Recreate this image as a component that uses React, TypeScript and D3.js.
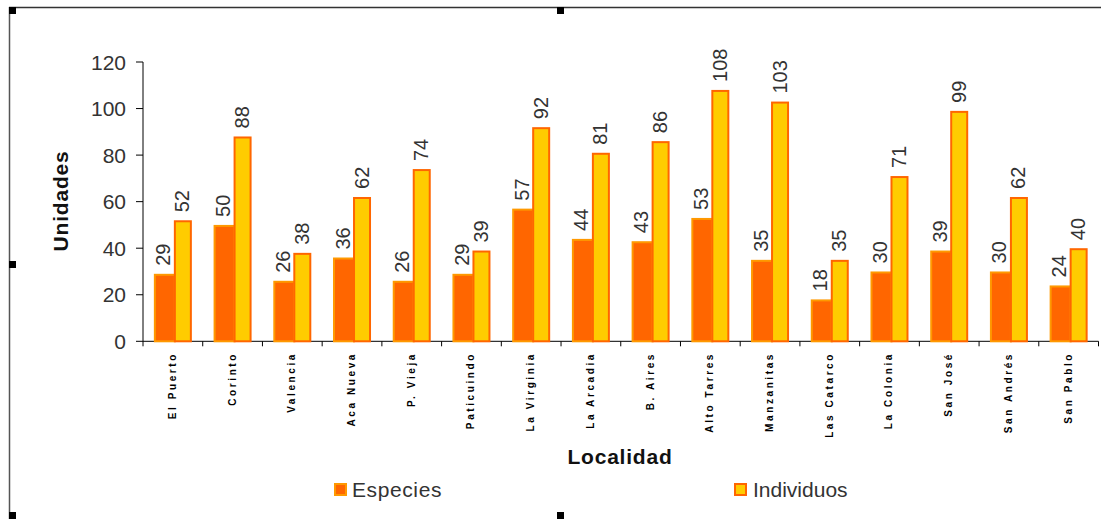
import React from "react";
import * as d3 from "d3";

const categories = [
  "El Puerto", "Corinto", "Valencia", "Aca Nueva", "P. Vieja", "Paticuindo",
  "La Virginia", "La Arcadia", "B. Aires", "Alto Tarres", "Manzanitas",
  "Las Catarco", "La Colonia", "San José", "San Andrés", "San Pablo",
];
const especies = [29, 50, 26, 36, 26, 29, 57, 44, 43, 53, 35, 18, 30, 39, 30, 24];
const individuos = [52, 88, 38, 62, 74, 39, 92, 81, 86, 108, 103, 35, 71, 99, 62, 40];
const seriesNames = ["Especies", "Individuos"];
const yTicks = [0, 20, 40, 60, 80, 100, 120];

const W = 1101;
const H = 519;
const FONT = "'Liberation Sans', Arial, sans-serif";

export default function App() {
  const x = d3.scaleBand<string>().domain(categories).range([143, 1098.5]).padding(0);
  const y = d3.scaleLinear().domain([0, 120]).range([341.3, 62]);
  const groupW = 38;
  const inner = d3.scaleBand<string>().domain(seriesNames).range([0, groupW]).padding(0);
  const bw = inner.bandwidth();
  const boundaries = categories.map((c) => x(c)!).concat([x.range()[1]]);

  return (
    <svg
      width={W}
      height={H}
      style={{ position: "absolute", left: 0, top: 0, background: "#fff" }}
      fontFamily={FONT}
    >
      <rect x={0} y={0} width={W} height={H} fill="#fff" />
      {/* frame */}
      <line x1={9} y1={7.5} x2={W} y2={7.5} stroke="#333" strokeWidth={1.5} />
      <line x1={9.5} y1={7} x2={9.5} y2={H} stroke="#555" strokeWidth={1.5} />
      {[
        [9, 7], [557, 7], [9, 261], [9, 512], [557, 512],
      ].map(([hx, hy], i) => (
        <rect key={i} x={hx} y={hy} width={7} height={7} fill="#000" />
      ))}

      {/* y axis */}
      <line x1={143} y1={y(120)} x2={143} y2={y(0)} stroke="#000" strokeWidth={1} />
      {yTicks.map((t) => (
        <g key={t}>
          <line x1={136} x2={143} y1={y(t)} y2={y(t)} stroke="#000" />
          <text x={126} y={y(t)} dy="0.36em" textAnchor="end" fontSize={21} fill="#333">
            {t}
          </text>
        </g>
      ))}
      <text
        transform={`translate(68,201) rotate(-90)`}
        textAnchor="middle"
        fontSize={21}
        fontWeight="bold"
        fill="#111"
        letterSpacing={0.8}
      >
        Unidades
      </text>

      {/* x axis */}
      <line x1={143} x2={x.range()[1]} y1={y(0)} y2={y(0)} stroke="#000" />
      {boundaries.map((b, i) => (
        <line key={i} x1={b} x2={b} y1={y(0)} y2={y(0) + 5} stroke="#000" />
      ))}

      {/* bars */}
      {categories.map((c, i) => {
        const gx = x(c)! + (x.bandwidth() - groupW) / 2;
        const sx = gx + inner("Especies")!;
        const ix = gx + inner("Individuos")!;
        const ys = y(especies[i]);
        const yi = y(individuos[i]);
        return (
          <g key={c}>
            <rect
              x={sx + 1}
              y={ys + 1}
              width={bw + 1}
              height={y(0) - ys - 1}
              fill="#FF6600"
              stroke="#FF9900"
              strokeWidth={2}
            />
            <rect
              x={ix + 2}
              y={yi + 1}
              width={bw - 3}
              height={y(0) - yi - 1}
              fill="#FFCC00"
              stroke="#FF6600"
              strokeWidth={2}
            />
            <text
              transform={`translate(${sx + bw / 2 + 7},${ys - 8}) rotate(-90)`}
              fontSize={20}
              fill="#333"
            >
              {especies[i]}
            </text>
            <text
              transform={`translate(${ix + bw / 2 + 7},${yi - 8}) rotate(-90)`}
              fontSize={20}
              fill="#333"
            >
              {individuos[i]}
            </text>
            <text
              transform={`translate(${x(c)! + x.bandwidth() / 2 + 3},352) rotate(-90)`}
              textAnchor="end"
              fontSize={10}
              fontWeight="bold"
              letterSpacing={2.6}
              fill="#000"
            >
              {c}
            </text>
          </g>
        );
      })}

      <text x={620} y={464} textAnchor="middle" fontSize={21} fontWeight="bold" fill="#111" letterSpacing={0.8}>
        Localidad
      </text>

      {/* legend */}
      <rect x={335} y={484} width={11} height={11} fill="#FF6600" stroke="#FF9900" strokeWidth={2} />
      <text x={352} y={497} fontSize={21} fill="#333" letterSpacing={0.6}>
        {seriesNames[0]}
      </text>
      <rect x={735} y={484} width={11} height={11} fill="#FFCC00" stroke="#FF6600" strokeWidth={2} />
      <text x={753} y={497} fontSize={21} fill="#333">
        {seriesNames[1]}
      </text>
    </svg>
  );
}
